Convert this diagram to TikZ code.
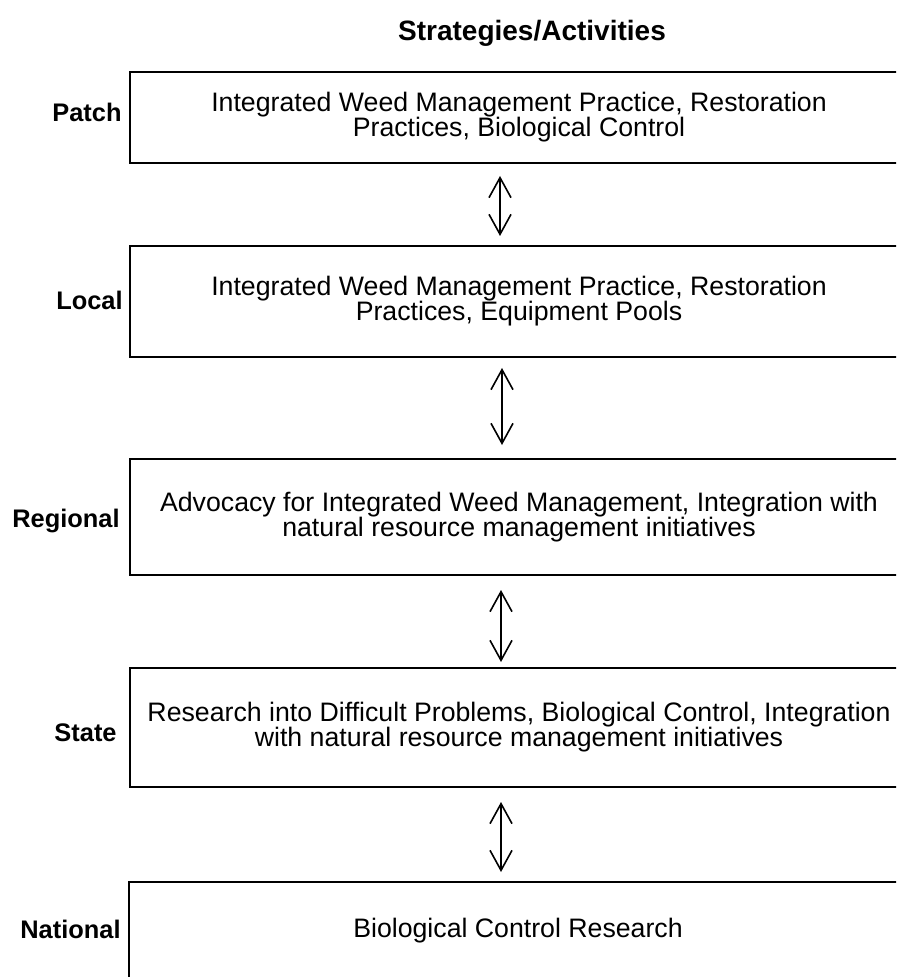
\documentclass[tikz,border=0pt]{standalone}
\usepackage{fontspec}
\setmainfont{Liberation Sans}
\usetikzlibrary{arrows.meta,calc}

\tikzset{
  level/.style={draw=black, line width=1pt, rectangle, align=center,
    minimum width=389pt, inner sep=0pt,
    font=\fontsize{13.35}{12.5}\selectfont},
  tier/.style={anchor=base east, inner sep=0pt, font=\bfseries\fontsize{12.7}{14}\selectfont},
  heading/.style={font=\bfseries\fontsize{14}{16}\selectfont},
  link/.style={line width=0.8pt, {Straight Barb[length=10pt,width=11pt]}-{Straight Barb[length=10pt,width=11pt]}}
}

\begin{document}
\begin{tikzpicture}[x=0.5pt, y=-0.5pt]
  \clip (0,0) rectangle (896,977);
  \useasboundingbox (0,0) rectangle (896,977);

  \node[heading] (title) at (532,33) {Strategies/Activities};

  % one box per management scale
  \node[level, minimum height=45.5pt] (b1) at (519,117.5)
    {Integrated Weed Management Practice, Restoration\\Practices, Biological Control};
  \node[level, minimum height=55.5pt] (b2) at (519,301.5)
    {Integrated Weed Management Practice, Restoration\\Practices, Equipment Pools};
  \node[level, minimum height=58pt] (b3) at (519,517)
    {Advocacy for Integrated Weed Management, Integration with\\natural resource management initiatives};
  \node[level, minimum height=59.5pt] (b4) at (519,727.5)
    {Research into Difficult Problems, Biological Control, Integration\\with natural resource management initiatives};
  \node[level, minimum height=49pt] (b5) at (518,931)
    {Biological Control Research};

  % scale labels
  \node[tier] (l1) at (122,122) {Patch};
  \node[tier] (l2) at (123,310) {Local};
  \node[tier] (l3) at (120,527) {Regional};
  \node[tier] (l4) at (117,741) {State};
  \node[tier] (l5) at (121,938) {National};

  % two-way links between scales
  \draw[link] ($(b1.south)+(-19,12)$) -- ($(b2.north)+(-19,-9)$);
  \draw[link] ($(b2.south)+(-17,10)$) -- ($(b3.north)+(-17,-13)$);
  \draw[link] ($(b3.south)+(-18,14)$) -- ($(b4.north)+(-18,-5)$);
  \draw[link] ($(b4.south)+(-18,14)$) -- ($(b5.north)+(-17,-9)$);
\end{tikzpicture}
\end{document}
